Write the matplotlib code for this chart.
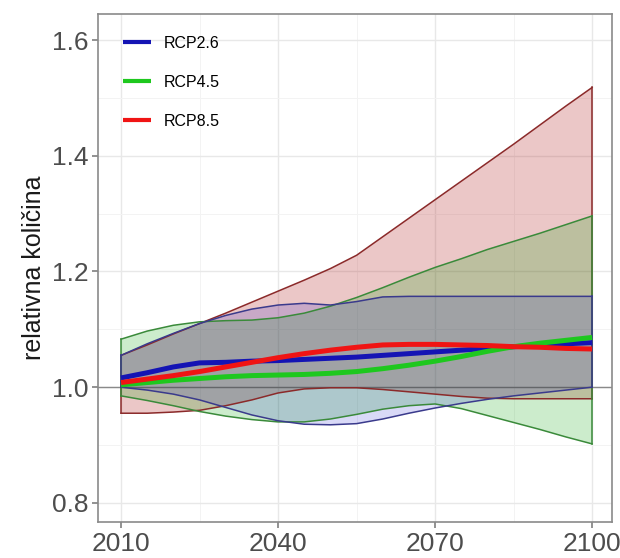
import matplotlib.pyplot as plt
from matplotlib.ticker import MultipleLocator

plt.rcParams['font.family'] = ['Liberation Sans', 'DejaVu Sans']

years = [2010, 2015, 2020, 2025, 2030, 2035, 2040, 2045, 2050, 2055,
         2060, 2065, 2070, 2075, 2080, 2085, 2090, 2095, 2100]

# RCP2.6
rcp26_mean = [1.016, 1.025, 1.035, 1.042, 1.043, 1.045, 1.046, 1.048, 1.050, 1.052,
              1.055, 1.058, 1.061, 1.064, 1.067, 1.070, 1.072, 1.075, 1.077]
rcp26_min = [1.000, 0.995, 0.988, 0.978, 0.965, 0.952, 0.942, 0.936, 0.935, 0.937,
             0.945, 0.955, 0.964, 0.972, 0.979, 0.985, 0.990, 0.995, 1.000]
rcp26_max = [1.055, 1.075, 1.093, 1.110, 1.124, 1.135, 1.142, 1.145, 1.142, 1.148,
             1.156, 1.157, 1.157, 1.157, 1.157, 1.157, 1.157, 1.157, 1.157]

# RCP4.5
rcp45_mean = [1.004, 1.008, 1.012, 1.015, 1.018, 1.020, 1.021, 1.022, 1.024, 1.027,
              1.032, 1.038, 1.045, 1.053, 1.062, 1.070, 1.076, 1.081, 1.086]
rcp45_min = [0.985, 0.977, 0.968, 0.958, 0.950, 0.944, 0.940, 0.940, 0.945, 0.953,
             0.962, 0.968, 0.971, 0.963, 0.951, 0.939, 0.927, 0.914, 0.902]
rcp45_max = [1.083, 1.097, 1.107, 1.113, 1.115, 1.116, 1.120, 1.128, 1.140, 1.155,
             1.172, 1.190, 1.207, 1.222, 1.238, 1.252, 1.266, 1.281, 1.296]

# RCP8.5
rcp85_mean = [1.008, 1.014, 1.020, 1.027, 1.035, 1.043, 1.051, 1.058, 1.064, 1.069,
              1.073, 1.074, 1.074, 1.073, 1.072, 1.070, 1.069, 1.067, 1.066]
rcp85_min = [0.955, 0.955, 0.957, 0.960, 0.968, 0.978, 0.990, 0.997, 0.999, 0.999,
             0.996, 0.992, 0.988, 0.984, 0.981, 0.980, 0.980, 0.980, 0.980]
rcp85_max = [1.055, 1.073, 1.092, 1.110, 1.128, 1.147, 1.166, 1.185, 1.205, 1.228,
             1.260, 1.292, 1.324, 1.356, 1.388, 1.420, 1.453, 1.486, 1.518]

fig = plt.figure(figsize=(6.2, 5.58), dpi=100)
ax = fig.add_axes([98 / 620, 1 - 522 / 558, 514 / 620, 508 / 558])

# reference line at 1
ax.axhline(1.0, color="#8a8a8a", lw=1.0, zorder=1)

# ribbons (min..max)
ax.fill_between(years, rcp85_min, rcp85_max, facecolor="#b22222", alpha=0.25,
                edgecolor="none", zorder=2)
ax.fill_between(years, rcp45_min, rcp45_max, facecolor="#00a000", alpha=0.2,
                edgecolor="none", zorder=2)
ax.fill_between(years, rcp26_min, rcp26_max, facecolor="#0000cd", alpha=0.15,
                edgecolor="none", zorder=2)

for lo, hi, col in [(rcp85_min, rcp85_max, "#8b2a2a"),
                    (rcp45_min, rcp45_max, "#3a8a3a"),
                    (rcp26_min, rcp26_max, "#3a3a8c")]:
    ax.plot(years, lo, color=col, lw=1.1, zorder=3)
    ax.plot(years, hi, color=col, lw=1.1, zorder=3)
    ax.plot([years[0], years[0]], [lo[0], hi[0]], color=col, lw=1.1, zorder=3)
    ax.plot([years[-1], years[-1]], [lo[-1], hi[-1]], color=col, lw=1.1, zorder=3)

# ensemble means
ax.plot(years, rcp26_mean, color="#1414b4", lw=3.6, zorder=4, label="RCP2.6",
        solid_capstyle="butt")
ax.plot(years, rcp45_mean, color="#1ec81e", lw=3.6, zorder=4, label="RCP4.5",
        solid_capstyle="butt")
ax.plot(years, rcp85_mean, color="#f01414", lw=3.6, zorder=5, label="RCP8.5",
        solid_capstyle="butt")

ax.set_xlim(2005.6, 2103.8)
ax.set_ylim(0.767, 1.645)
ax.set_xticks([2010, 2040, 2070, 2100])
ax.set_yticks([0.8, 1.0, 1.2, 1.4, 1.6])
ax.set_yticklabels(["0.8", "1.0", "1.2", "1.4", "1.6"])
ax.xaxis.set_minor_locator(MultipleLocator(15))
ax.yaxis.set_minor_locator(MultipleLocator(0.1))
ax.grid(which="major", color="#e8e8e8", lw=1.0, zorder=0)
ax.grid(which="minor", color="#f3f3f3", lw=0.7, zorder=0)
ax.set_axisbelow(True)
ax.tick_params(which="major", length=4, width=1.2, color="#7f7f7f",
               labelcolor="#4d4d4d", labelsize=19, pad=3)
ax.tick_params(which="minor", length=0)
for sp in ax.spines.values():
    sp.set_color("#8a8a8a")
    sp.set_linewidth(1.2)

ax.set_ylabel("relativna količina", fontsize=18, color="#1a1a1a", labelpad=4)

leg = ax.legend(loc="upper left", bbox_to_anchor=(0.02, 0.985), frameon=False,
                fontsize=11.5, handlelength=1.75, handletextpad=0.8,
                labelspacing=1.5)
for line in leg.get_lines():
    line.set_linewidth(3)

fig.savefig("out.png", dpi=100)
